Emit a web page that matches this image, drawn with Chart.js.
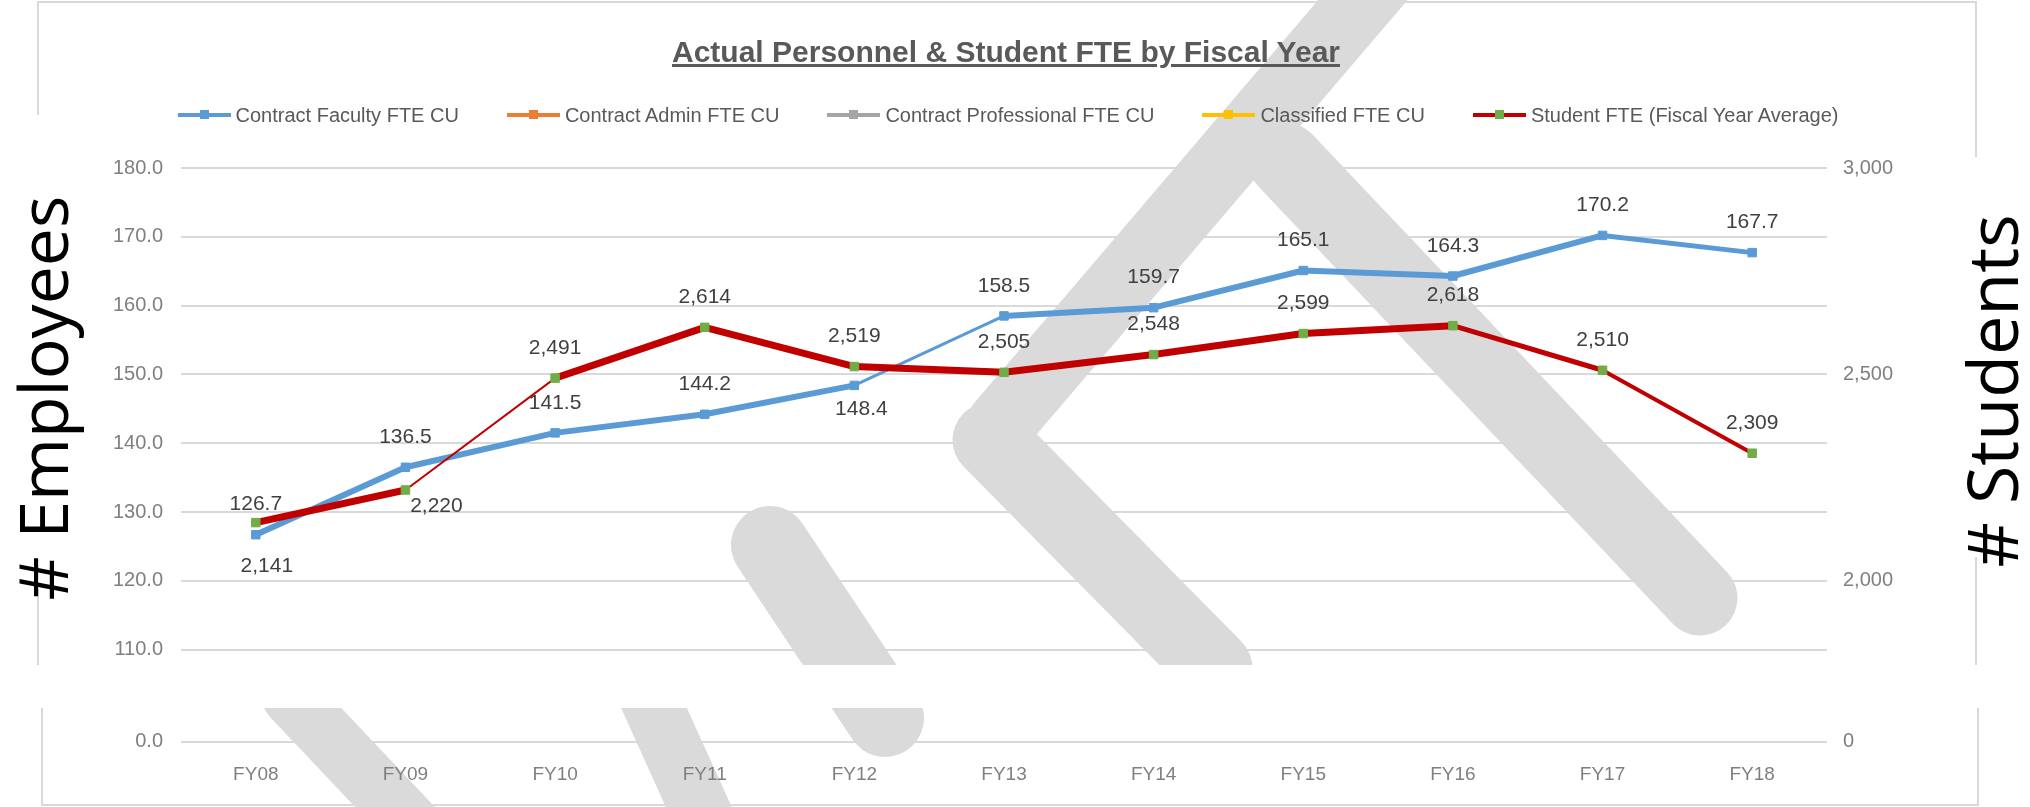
<!DOCTYPE html>
<html>
<head>
<meta charset="utf-8">
<script src="https://cdn.jsdelivr.net/npm/chart.js@4.4.1/dist/chart.umd.min.js"></script>
<style>
    html, body { margin: 0; padding: 0; background: #fff; }
    #wrap { position: relative; width: 2030px; height: 807px; overflow: hidden; font-family: "Liberation Sans", Arial, sans-serif; }
    .box { position: absolute; border: 2px solid #d9d9d9; box-sizing: border-box; }
    #boxTop    { left: 37px; top: 1px;   width: 1940px; height: 700px; }
    #boxBottom { left: 41px; top: 680px; width: 1938px; height: 126px; }
    #watermark { position: absolute; left: 0; top: 0; }
    canvas { position: absolute; left: 0; }
    #topChart    { top: 0; }
    #bottomChart { top: 703px; }
    #band { position: absolute; left: 0; top: 665px; width: 2030px; height: 43px; background: #fff; }
    #title { position: absolute; left: 0; top: 35px; width: 2012px; text-align: center; font-weight: bold; font-size: 30px; line-height: 34px; color: #595959; text-decoration: underline; }
    #legend { position: absolute; left: 0; top: 103px; width: 2016px; display: flex; justify-content: center; gap: 48px; font-size: 20px; line-height: 24px; color: #595959; }
    .item { display: flex; align-items: center; }
    .mark { position: relative; width: 53px; height: 4px; margin-right: 5px; }
    .mark i { position: absolute; left: 22px; top: -3px; width: 9px; height: 9px; }
    .axisTitle { position: absolute; background: #fff; }
    .axisTitle span { position: absolute; left: 50%; transform: translate(-50%, -50%) rotate(-90deg); white-space: nowrap; font-family: "Open Sans", sans-serif; font-size: 68px; color: #000; }
    #empTitle { left: 0; top: 115px; width: 82px; height: 474px; }
    #empTitle span { top: 283px; }
    #stuTitle { left: 1952px; top: 157px; width: 78px; height: 400px; }
    #stuTitle span { top: 234px; font-size: 70px; }
</style>
</head>
<body>
<div id="wrap">
    <div class="box" id="boxTop"></div>
    <div class="box" id="boxBottom"></div>
    <!-- faint "draft" watermark strokes behind the chart -->
    <svg id="watermark" width="2030" height="807">
        <g stroke="#dadada" stroke-linecap="round" fill="none">
            <line x1="1380" y1="-20" x2="1000" y2="425" stroke-width="68"/>
            <line x1="1285" y1="160" x2="1700" y2="598" stroke-width="75"/>
            <line x1="990"  y1="440" x2="1215" y2="668" stroke-width="75"/>
            <line x1="770"  y1="545" x2="885"  y2="718" stroke-width="78"/>
            <line x1="291"  y1="697" x2="430"  y2="844" stroke-width="58"/>
            <line x1="649"  y1="697" x2="716"  y2="845" stroke-width="60"/>
        </g>
    </svg>
    <canvas id="topChart" width="2030" height="695"></canvas>
    <canvas id="bottomChart" width="2030" height="99"></canvas>
    <div id="band"></div>
    <div id="title">Actual Personnel &amp; Student FTE by Fiscal Year</div>
    <div id="legend"></div>
    <div class="axisTitle" id="empTitle"><span># Employees</span></div>
    <div class="axisTitle" id="stuTitle"><span># Students</span></div>
</div>
<script>
// data
const years           = ['FY08','FY09','FY10','FY11','FY12','FY13','FY14','FY15','FY16','FY17','FY18'];
const facultyFte      = [126.7, 136.5, 141.5, 144.2, 148.4, 158.5, 159.7, 165.1, 164.3, 170.2, 167.7];
const adminFte        = [];
const professionalFte = [];
const classifiedFte   = [];
const studentFte      = [2141, 2220, 2491, 2614, 2519, 2505, 2548, 2599, 2618, 2510, 2309];

// axis ticks (upper part of the broken axis, then the bottom stub)
const employeeTicks   = [110, 120, 130, 140, 150, 160, 170, 180];
const studentTicks    = [2000, 2500, 3000];
const baseTicks       = [0];

// styling
const facultyWidths = [6, 6, 6, 6, 3, 6, 6, 6, 6, 5];
const studentWidths = [7, 2, 7, 7, 7, 7, 7, 7, 5, 4];
const facultyPlace  = ['above','above','above','above','below','above','above','above','above','above','above'];
const studentPlace  = ['under','right','above','above','above','above','above','above','above','above','above'];
const labelOffset   = { above: [0, -30], below: [7, 24], under: [11, 44], right: [31, 16] };

const GRID = '#d9d9d9';
const TICK = '#7f7f7f';
const FONT = '"Liberation Sans", Arial, sans-serif';

const fmt1  = v => v.toFixed(1);
const fmtK  = v => v.toLocaleString('en-US');

const fixWidth = w => scale => { scale.width = w; };
const useTicks = list => scale => { scale.ticks = list.map(v => ({ value: v })); };

const pointLabels = {
    id: 'pointLabels',
    afterDatasetsDraw(chart) {
        const ctx = chart.ctx;
        ctx.save();
        ctx.font = '21px ' + FONT;
        ctx.fillStyle = '#404040';
        ctx.textAlign = 'center';
        ctx.textBaseline = 'middle';
        chart.data.datasets.forEach((ds, i) => {
            if (!ds.place) return;
            chart.getDatasetMeta(i).data.forEach((pt, j) => {
                const off = labelOffset[ds.place[j]];
                ctx.fillText(ds.format(ds.data[j]), pt.x + off[0], pt.y + off[1]);
            });
        });
        ctx.restore();
    }
};

const topChart = new Chart(document.getElementById('topChart'), {
    type: 'line',
    data: {
        labels: years,
        datasets: [
            { label: 'Contract Faculty FTE CU', data: facultyFte, yAxisID: 'y', order: 1,
              borderColor: '#5b9bd5', backgroundColor: '#5b9bd5', pointBackgroundColor: '#5b9bd5', pointBorderColor: '#5b9bd5',
              pointStyle: 'rect', pointRadius: 6, borderJoinStyle: 'round', borderCapStyle: 'round',
              segment: { borderWidth: c => facultyWidths[c.p0DataIndex] },
              place: facultyPlace, format: fmt1 },
            { label: 'Contract Admin FTE CU', data: adminFte, yAxisID: 'y', order: 2,
              borderColor: '#ed7d31', pointBackgroundColor: '#ed7d31' },
            { label: 'Contract Professional FTE CU', data: professionalFte, yAxisID: 'y', order: 3,
              borderColor: '#a5a5a5', pointBackgroundColor: '#a5a5a5' },
            { label: 'Classified FTE CU', data: classifiedFte, yAxisID: 'y', order: 4,
              borderColor: '#ffc000', pointBackgroundColor: '#ffc000' },
            { label: 'Student FTE (Fiscal Year Average)', data: studentFte, yAxisID: 'y1', order: 0,
              borderColor: '#c00000', backgroundColor: '#c00000', pointBackgroundColor: '#70ad47', pointBorderColor: '#70ad47',
              pointStyle: 'rect', pointRadius: 6, borderJoinStyle: 'round', borderCapStyle: 'round',
              segment: { borderWidth: c => studentWidths[c.p0DataIndex] },
              place: studentPlace, format: fmtK }
        ]
    },
    options: {
        responsive: false, animation: false, devicePixelRatio: 1,
        layout: { padding: { top: 168, bottom: 0, left: 0, right: 0 } },
        plugins: { legend: { display: false }, tooltip: { enabled: false } },
        scales: {
            x: { display: false, offset: true },
            y: {
                position: 'left', min: 107.76, max: 180,
                afterBuildTicks: useTicks(employeeTicks), afterFit: fixWidth(181),
                grid: { color: GRID, lineWidth: 2, drawTicks: false }, border: { display: false },
                ticks: { padding: 18, color: TICK, font: { family: FONT, size: 20 }, callback: v => fmt1(v) }
            },
            y1: {
                position: 'right', min: 1796, max: 3000,
                afterBuildTicks: useTicks(studentTicks), afterFit: fixWidth(203),
                grid: { display: false, drawTicks: false }, border: { display: false },
                ticks: { padding: 16, color: TICK, font: { family: FONT, size: 20 }, callback: v => fmtK(v) }
            }
        }
    },
    plugins: [pointLabels]
});

new Chart(document.getElementById('bottomChart'), {
    type: 'line',
    data: { labels: years, datasets: [] },
    options: {
        responsive: false, animation: false, devicePixelRatio: 1,
        layout: { padding: { top: 0, bottom: 22, left: 0, right: 0 } },
        plugins: { legend: { display: false }, tooltip: { enabled: false } },
        scales: {
            x: {
                offset: true, grid: { display: false, drawTicks: false }, border: { display: false },
                ticks: { padding: 22, color: TICK, font: { family: FONT, size: 19 } }
            },
            y: {
                position: 'left', min: 0, max: 1,
                afterBuildTicks: useTicks(baseTicks), afterFit: fixWidth(181),
                grid: { color: GRID, lineWidth: 2, drawTicks: false }, border: { display: false },
                ticks: { padding: 18, color: TICK, font: { family: FONT, size: 20 }, callback: v => fmt1(v) }
            },
            y1: {
                position: 'right', min: 0, max: 1,
                afterBuildTicks: useTicks(baseTicks), afterFit: fixWidth(203),
                grid: { display: false, drawTicks: false }, border: { display: false },
                ticks: { padding: 16, color: TICK, font: { family: FONT, size: 20 }, callback: v => fmtK(v) }
            }
        }
    }
});

// html legend built from the datasets
const legendEl = document.getElementById('legend');
legendEl.innerHTML = topChart.data.datasets.map(ds => `
    <div class="item">
        <div class="mark" style="background:${ds.borderColor};"><i style="background:${ds.pointBackgroundColor};"></i></div>
        <span>${ds.label}</span>
    </div>`).join('');
</script>
</body>
</html>
